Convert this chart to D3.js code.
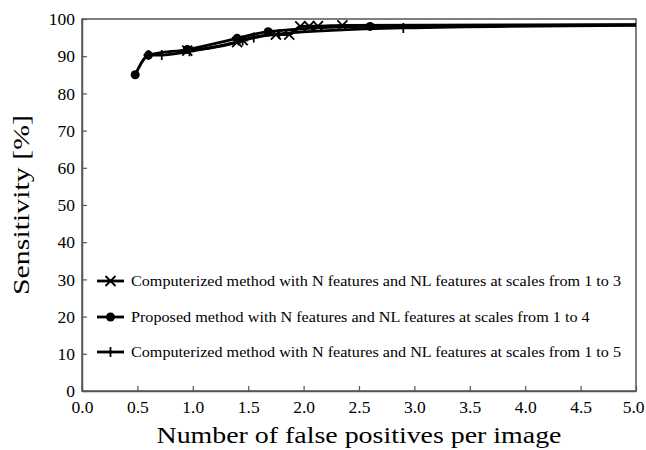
<!DOCTYPE html>
<html><head><meta charset="utf-8">
<script src="https://cdn.jsdelivr.net/npm/d3@7"></script>
<style>body{margin:0;background:#fff}svg{display:block}text{font-family:"Liberation Serif","Times New Roman",serif;fill:#000}</style>
</head><body><svg id="c" width="646" height="450"></svg>
<script>
const seriesNames = [
  "Computerized method with N features and NL features at scales from 1 to 3",
  "Proposed method with N features and NL features at scales from 1 to 4",
  "Computerized method with N features and NL features at scales from 1 to 5"
];
const markerTypes = ["cross", "dot", "plus"];
const crossX = [0.95, 1.40, 1.45, 1.75, 1.87, 1.97, 2.05, 2.13, 2.35, 5.0];
const crossY = [91.5, 93.8, 94.3, 95.8, 95.8, 98.0, 98.1, 98.1, 98.3, 98.5];
const dotX = [0.48, 0.60, 0.95, 1.40, 1.68, 2.60, 5.0];
const dotY = [85.0, 90.3, 91.8, 94.8, 96.6, 98.0, 98.4];
const plusX = [0.60, 0.72, 0.97, 1.45, 1.55, 1.78, 2.90, 5.0];
const plusY = [90.3, 90.3, 91.3, 94.2, 95.0, 96.0, 97.6, 98.3];
const xTicks = [0.0,0.5,1.0,1.5,2.0,2.5,3.0,3.5,4.0,4.5,5.0];
const yTicks = [0,10,20,30,40,50,60,70,80,90,100];

const svg = d3.select("#c");
const L = 82, R = 636, T = 19, B = 391;
const x = d3.scaleLinear().domain([0,5]).range([L,R]);
const y = d3.scaleLinear().domain([0,100]).range([B,T]);

svg.append("rect").attr("x",L).attr("y",T).attr("width",R-L).attr("height",B-T)
  .attr("fill","none").attr("stroke","#555").attr("stroke-width",1.5);

const xa = svg.append("g").attr("transform",`translate(0,${B})`)
  .call(d3.axisBottom(x).tickValues(xTicks).tickFormat(d3.format(".1f")).tickSizeInner(-5).tickSizeOuter(0).tickPadding(10));
const ya = svg.append("g").attr("transform",`translate(${L},0)`)
  .call(d3.axisLeft(y).tickValues(yTicks).tickSizeInner(-5).tickSizeOuter(0).tickPadding(7));
[xa,ya].forEach(a=>{
  a.attr("font-family",null);
  a.select(".domain").attr("stroke","#555").attr("stroke-width",1.5);
  a.selectAll(".tick line").attr("stroke","#555").attr("stroke-width",1.2);
  a.selectAll("text").style("font-size","17.5px").style("font-family","'Liberation Serif','Times New Roman',serif");
});
xa.selectAll(".tick text").filter(d=>d===5).attr("text-anchor","end").attr("dx","8");

svg.append("text").attr("x",(L+R)/2).attr("y",443).attr("text-anchor","middle")
  .attr("textLength",405).attr("lengthAdjust","spacingAndGlyphs")
  .style("font-size","23px").text("Number of false positives per image");
svg.append("text").attr("transform",`translate(29,${(T+B)/2}) rotate(-90)`).attr("text-anchor","middle")
  .attr("textLength",180).attr("lengthAdjust","spacingAndGlyphs")
  .style("font-size","23px").text("Sensitivity [%]");

function marker(g, type, cx, cy) {
  if (type==="dot") g.append("circle").attr("cx",cx).attr("cy",cy).attr("r",4.5).attr("fill","#000");
  else if (type==="cross") g.append("path").attr("d",`M${cx-5},${cy-5}L${cx+5},${cy+5}M${cx-5},${cy+5}L${cx+5},${cy-5}`).attr("stroke","#000").attr("stroke-width",1.8);
  else g.append("path").attr("d",`M${cx-5},${cy}L${cx+5},${cy}M${cx},${cy-5}L${cx},${cy+5}`).attr("stroke","#000").attr("stroke-width",1.8);
}

const data = [
  crossX.map((v,i)=>[v,crossY[i]]),
  dotX.map((v,i)=>[v,dotY[i]]),
  plusX.map((v,i)=>[v,plusY[i]])
];
const line = d3.line().x(d=>x(d[0])).y(d=>y(d[1])).curve(d3.curveMonotoneX);
[0,2,1].forEach(k=>{
  const s = data[k];
  const g = svg.append("g");
  g.append("path").attr("d",line(s)).attr("fill","none").attr("stroke","#000").attr("stroke-width",2.8);
  s.forEach((d,i)=>{ if (i < s.length-1) marker(g, markerTypes[k], x(d[0]), y(d[1])); });
});

const ly = [281, 317, 352];
const legendTexts = [];
seriesNames.forEach((n,k)=>{
  const g = svg.append("g");
  g.append("line").attr("x1",97).attr("x2",124).attr("y1",ly[k]).attr("y2",ly[k]).attr("stroke","#000").attr("stroke-width",2.8);
  marker(g, markerTypes[k], 110.5, ly[k]);
  legendTexts.push(g.append("text").attr("x",131).attr("y",ly[k]+5).style("font-size","15px").text(n));
});
const natural = legendTexts.map(t=>t.node().getComputedTextLength());
const f = 490 / natural[0];
legendTexts.forEach((t,k)=>t.attr("textLength",natural[k]*f).attr("lengthAdjust","spacingAndGlyphs"));
</script></body></html>
